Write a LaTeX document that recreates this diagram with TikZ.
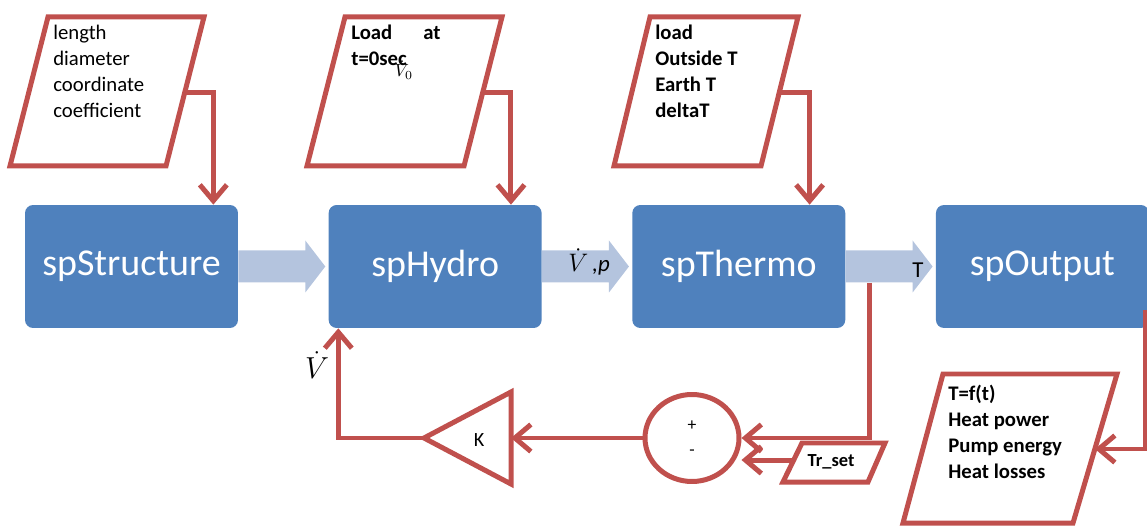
\documentclass[tikz,border=0pt]{standalone}
\usepackage{fontspec}
\setmainfont{Carlito}
\usetikzlibrary{positioning, arrows.meta, calc, shapes.geometric}

\definecolor{azulbloque}{HTML}{4F81BD}
\definecolor{azulflujo}{HTML}{B4C4DE}
\definecolor{rojolinea}{HTML}{C0504D}

\begin{document}
\begin{tikzpicture}[
		x=0.02cm, y=0.02cm,
		node distance=1.8cm,
		% Bloques del modelo
		bloque/.style={fill=azulbloque, rectangle, rounded corners=0.16cm, minimum width=4.26cm, minimum height=2.46cm, inner sep=0pt, text=white, font=\fontsize{21.6}{26}\selectfont},
		% Flechas anchas entre bloques
		flujo/.style={fill=azulflujo},
		% Formas y lineas rojas
		entrada/.style={draw=rojolinea, line width=0.1cm, line join=miter, fill=white},
		sumador/.style={ellipse, draw=rojolinea, line width=0.1cm, minimum width=1.88cm, minimum height=1.74cm, inner sep=0pt, align=center, font=\fontsize{10}{14.2}\selectfont},
		flecha/.style={-{Straight Barb[length=0.32cm, width=0.54cm]}, draw=rojolinea, line width=0.1cm},
		% Textos
		texto_ent/.style={anchor=north west, inner sep=0pt, align=left, font=\fontsize{11.8}{14.8}\selectfont},
		texto_neg/.style={texto_ent, font=\fontsize{11.8}{14.8}\selectfont\bfseries}
		]
		\useasboundingbox (0,0) rectangle (1147,528);
		
		% --- BLOQUES PRINCIPALES ---
		\node[bloque] (estructura) at (131.5,261.5) {spStructure};
		\node[bloque, right=of estructura] (hidro) {spHydro};
		\node[bloque, right=of hidro] (termo) {spThermo};
		\node[bloque, right=of termo] (salida) {spOutput};
		
		% --- FLECHAS ANCHAS ---
		\foreach \a/\b in {estructura/hidro, hidro/termo, termo/salida}
		\fill[flujo] ($(\a.east)+(0,16)$) -- ($(\b.west)+(-23,16)$) -- ++(0,10) -- ($(\b.west)+(-3,0)$)
		-- ($(\b.west)+(-23,-26)$) -- ++(0,10) -- ($(\a.east)+(0,-16)$) -- cycle;
		\node[anchor=base west, inner sep=0pt] (etq_vp) at (568,256) {\fontsize{14}{16}\selectfont$\dot V$\,\fontsize{13}{15}\selectfont\textit{,p}};
		\node[anchor=base west, inner sep=0pt] (etq_t) at (912,250) {\fontsize{13}{15}\selectfont T};
		
		% --- ENTRADAS (ARRIBA) ---
		\draw[entrada] (48,511) -- (204,511) -- (166,362) -- (10,362) -- cycle;
		\node[texto_ent] (param1) at (53,503) {length\\diameter\\coordinate\\coefficient};
		\coordinate (e1) at (184.6,435);
		\draw[flecha] (e1) -| ($(estructura.north east)+(-25,0)$);
		
		\draw[entrada] (345,511) -- (502,511) -- (464,362) -- (307,362) -- cycle;
		\node[texto_neg] (param2) at (351,503) {Load\hspace{1.5em}at\\t=0sec};
		\node (vcero) at (404,458) {\fontsize{10}{12}\selectfont$\dot V_0$};
		\coordinate (e2) at (482.6,435);
		\draw[flecha] (e2) -| ($(hidro.north east)+(-31,0)$);
		
		\draw[entrada] (650,511) -- (798,511) -- (761,362) -- (614,362) -- cycle;
		\node[texto_neg] (param3) at (655,503) {load\\Outside T\\Earth T\\deltaT};
		\coordinate (e3) at (779,435);
		\draw[flecha] (e3) -| ($(termo.north east)+(-36,0)$);
		
		% --- SALIDA (ABAJO DERECHA) ---
		\draw[entrada] (943,154) -- (1117,154) -- (1073,5) -- (903,5) -- cycle;
		\node[texto_neg] (resultados) at (948,143) {T=f(t)\\Heat power\\Pump energy\\Heat losses};
		\coordinate (s1) at (1095,79);
		\draw[flecha] ($(salida.south east)+(-4,18)$) |- (s1);
		
		% --- LAZO DE REALIMENTACION ---
		\node[sumador] (suma) at (692,90) {+\\-};
		\coordinate (c1) at ($(termo.east)+(24,-16.5)$);
		\draw[flecha] (c1) |- (suma.east);
		
		\draw[entrada] (802,85) -- (885,85) -- (868,46) -- (783,46) -- cycle;
		\node[font=\fontsize{10.5}{12}\selectfont\bfseries] (trset) at (831,66) {Tr\_set};
		\coordinate (t1) at (794,68);
		\draw[flecha] (t1) -- (t1 -| suma.east);
		
		\draw[entrada] (424,90) -- (511,136) -- (511,44) -- cycle;
		\node[font=\fontsize{11.5}{13}\selectfont] (ganancia) at (479,88) {K};
		\coordinate (ka) at (424,90);
		\coordinate (kb) at (511,90);
		\draw[flecha] (suma.west) -- (kb);
		\draw[flecha] (ka) -| ($(hidro.south west)+(10,0)$);
		\node (vpunto) at (317,163) {\fontsize{18}{21}\selectfont$\dot V$};
		
	\end{tikzpicture}
\end{document}
